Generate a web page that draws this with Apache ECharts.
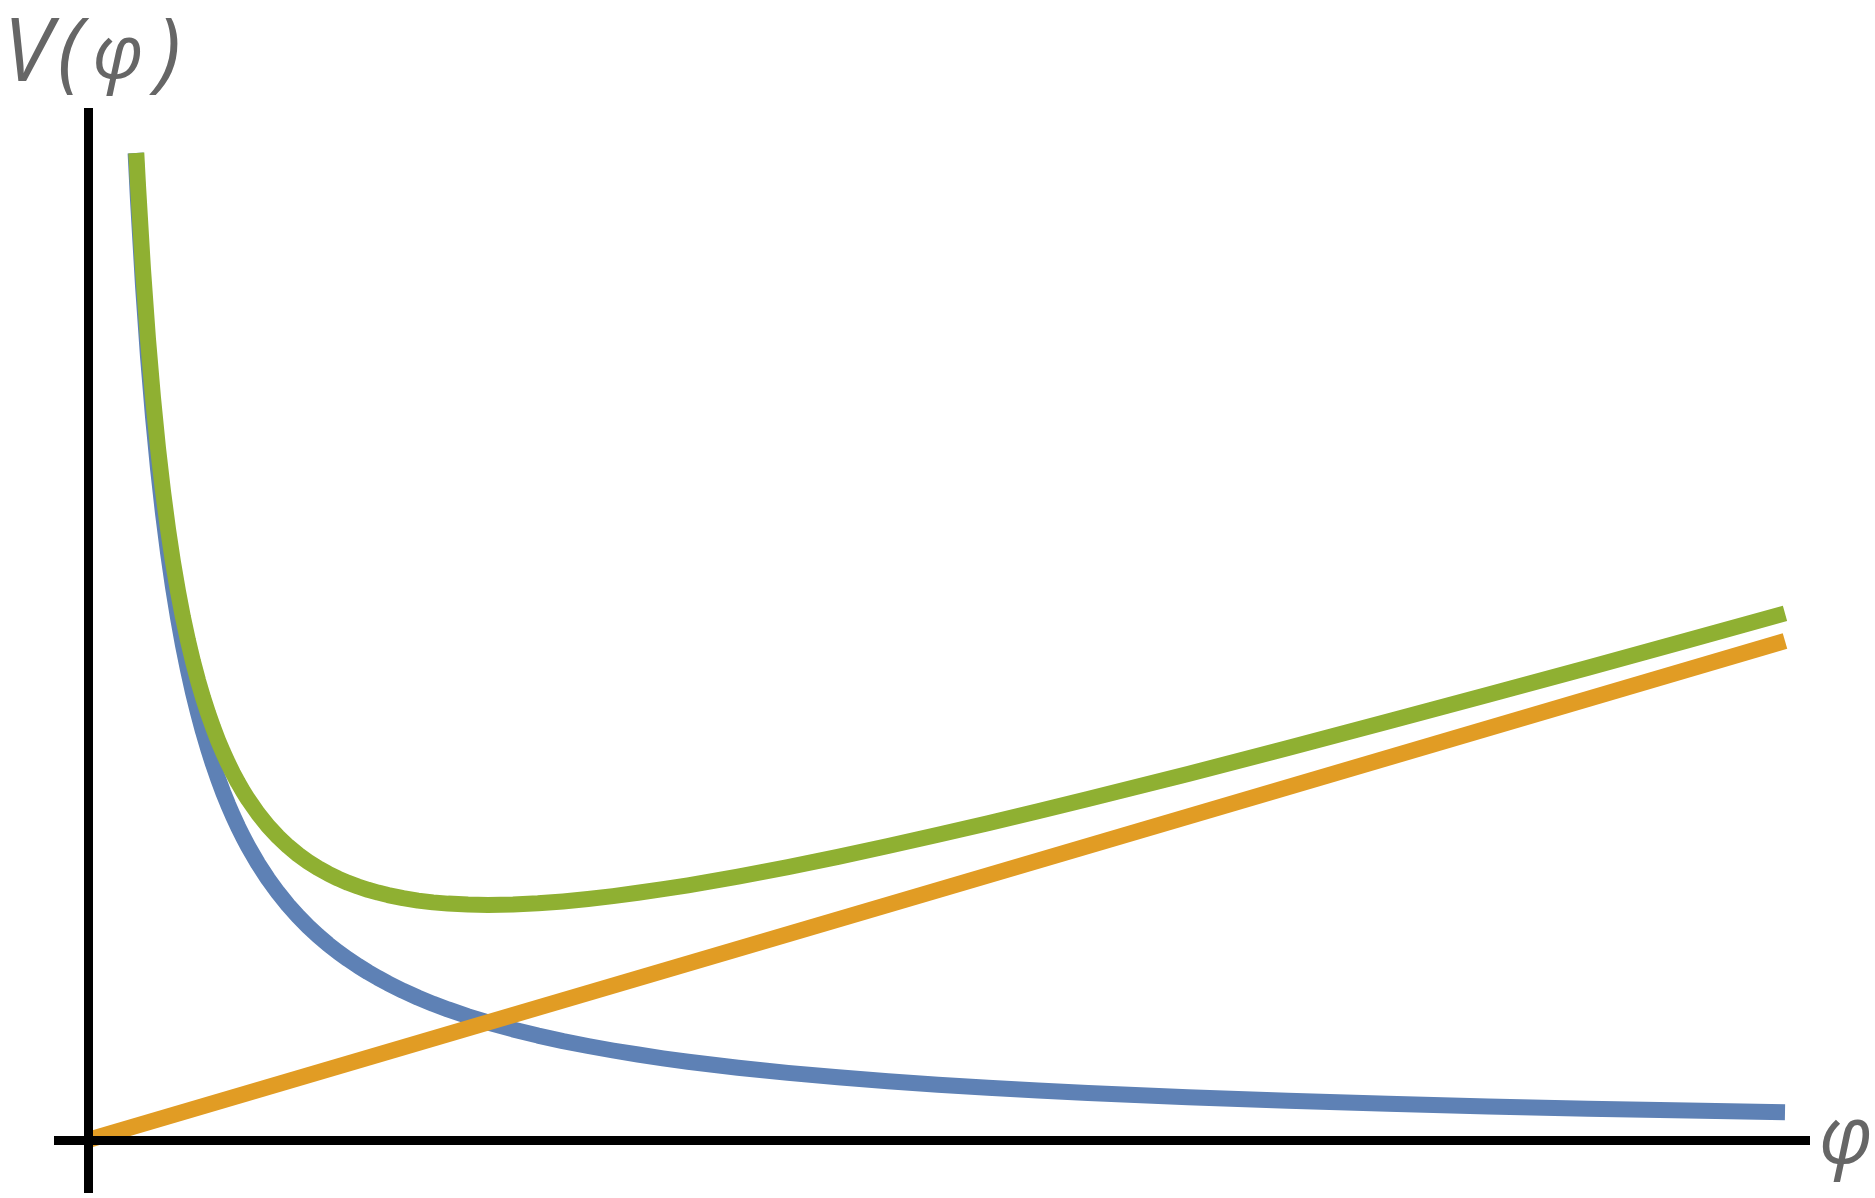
<!DOCTYPE html>
<html>
<head>
<meta charset="utf-8">
<title>V(φ)</title>
<script src="https://cdn.jsdelivr.net/npm/echarts@6/dist/echarts.min.js"></script>
<style>
  html, body { margin: 0; padding: 0; background: #fff; overflow: hidden; }
  #chart { width: 1875px; height: 1198px; }
</style>
</head>
<body>
<div id="chart"></div>
<script>
// blue: falling term
const fallPhi = [0.476, 0.5, 0.55, 0.6, 0.65, 0.7, 0.75, 0.8, 0.85, 0.9, 0.95, 1.0, 1.05, 1.1, 1.15,
  1.2, 1.25, 1.3, 1.35, 1.4, 1.45, 1.5, 1.55, 1.6, 1.7, 1.8, 1.9, 2.0, 2.1, 2.2, 2.3, 2.4, 2.5, 2.6,
  2.7, 2.8, 2.9, 3.0, 3.15, 3.3, 3.45, 3.6, 3.8, 4.0, 4.25, 4.5, 4.75, 5.0, 5.25, 5.5, 5.75, 6.0,
  6.5, 7.0, 7.5, 8.0, 8.5, 9.0, 9.5, 10, 11, 12, 13, 14, 15, 16, 16.97]
const falling = [9.87, 9.40, 8.545, 7.833, 7.231, 6.714, 6.267, 5.875, 5.529, 5.222, 4.947, 4.70,
  4.476, 4.273, 4.087, 3.917, 3.76, 3.615, 3.481, 3.357, 3.241, 3.133, 3.032, 2.938, 2.765, 2.611,
  2.474, 2.35, 2.238, 2.136, 2.043, 1.958, 1.88, 1.808, 1.741, 1.679, 1.621, 1.567, 1.492, 1.424,
  1.362, 1.306, 1.237, 1.175, 1.106, 1.044, 0.989, 0.94, 0.895, 0.855, 0.817, 0.783, 0.723, 0.671,
  0.627, 0.588, 0.553, 0.522, 0.495, 0.47, 0.427, 0.392, 0.362, 0.336, 0.313, 0.294, 0.277]

// green: total potential (first point clipped at the top of the frame)
const totalPhi = [0.483, 0.5, 0.55, 0.6, 0.65, 0.7, 0.75, 0.8, 0.85, 0.9, 0.95, 1.0, 1.05, 1.1, 1.15,
  1.2, 1.25, 1.3, 1.35, 1.4, 1.45, 1.5, 1.55, 1.6, 1.7, 1.8, 1.9, 2.0, 2.1, 2.2, 2.3, 2.4, 2.5, 2.6,
  2.7, 2.8, 2.9, 3.0, 3.15, 3.3, 3.45, 3.6, 3.8, 4.0, 4.25, 4.5, 4.75, 5.0, 5.25, 5.5, 5.75, 6.0,
  6.5, 7.0, 7.5, 8.0, 8.5, 9.0, 9.5, 10, 11, 12, 13, 14, 15, 16, 16.97]
const total = [9.87, 9.547, 8.707, 8.009, 7.422, 6.920, 6.488, 6.110, 5.779, 5.487, 5.226, 4.994,
  4.785, 4.596, 4.425, 4.270, 4.128, 3.997, 3.878, 3.769, 3.667, 3.574, 3.488, 3.408, 3.265, 3.140,
  3.033, 2.938, 2.855, 2.783, 2.719, 2.664, 2.615, 2.572, 2.535, 2.502, 2.474, 2.449, 2.418, 2.394,
  2.376, 2.364, 2.354, 2.351, 2.356, 2.367, 2.386, 2.41, 2.439, 2.472, 2.508, 2.547, 2.634, 2.729,
  2.832, 2.940, 3.052, 3.168, 3.288, 3.41, 3.661, 3.920, 4.184, 4.452, 4.723, 4.998, 5.266]

// orange: straight line from the origin
const linePhi = [0, 16.97]
const rising = [0, 4.99]

const pairs = (xs, ys) => xs.map((x, i) => [x, ys[i]])

const labelStyle = {
  fontFamily: 'Open Sans',
  fontStyle: 'italic',
  fontSize: 88,
  color: '#666',
}

function renderChart() {
  const chart = echarts.init(document.getElementById('chart'))
  chart.setOption({
    animation: false,
    grid: {
      left: 54, right: 65, top: 108, bottom: 5,
      containLabel: false,
      outerBoundsMode: 'none',
    },
    xAxis: {
      type: 'value',
      min: -0.34,
      max: 17.22,
      z: 5,
      axisTick: { show: false },
      axisLabel: { show: false },
      splitLine: { show: false },
      axisLine: { onZero: true, lineStyle: { color: '#000', width: 9, cap: 'butt' } },
      name: 'φ',
      nameLocation: 'end',
      nameGap: 9,
      nameTextStyle: { ...labelStyle, fontSize: 80, verticalAlign: 'middle', padding: [18, 0, 0, 0] },
    },
    yAxis: {
      type: 'value',
      min: -0.53,
      max: 10.32,
      z: 5,
      axisTick: { show: false },
      axisLabel: { show: false },
      splitLine: { show: false },
      axisLine: { onZero: true, lineStyle: { color: '#000', width: 9, cap: 'butt' } },
      name: '{a|V}{b|(}{c|φ}{b|)}',
      nameLocation: 'end',
      nameGap: 8,
      nameTextStyle: {
        ...labelStyle,
        align: 'center',
        padding: [0, 0, 0, 8],
        rich: {
          a: { ...labelStyle, padding: [0, 6, 0, 0] },
          b: { ...labelStyle },
          c: { ...labelStyle, fontSize: 76, padding: [0, 12, 0, 10] },
        },
      },
    },
    series: [
      {
        type: 'line',
        data: pairs(fallPhi, falling),
        showSymbol: false,
        lineStyle: { color: '#5e81b5', width: 16, join: 'round' },
        z: 2,
      },
      {
        type: 'line',
        data: pairs(linePhi, rising),
        showSymbol: false,
        lineStyle: { color: '#e19c24', width: 16 },
        z: 3,
      },
      {
        type: 'line',
        data: pairs(totalPhi, total),
        showSymbol: false,
        lineStyle: { color: '#8fb032', width: 16, join: 'round' },
        z: 4,
      },
    ],
  })
}

if (document.fonts && document.fonts.load) {
  document.fonts.load('italic 88px "Open Sans"').then(renderChart, renderChart)
} else {
  renderChart()
}
</script>
</body>
</html>
